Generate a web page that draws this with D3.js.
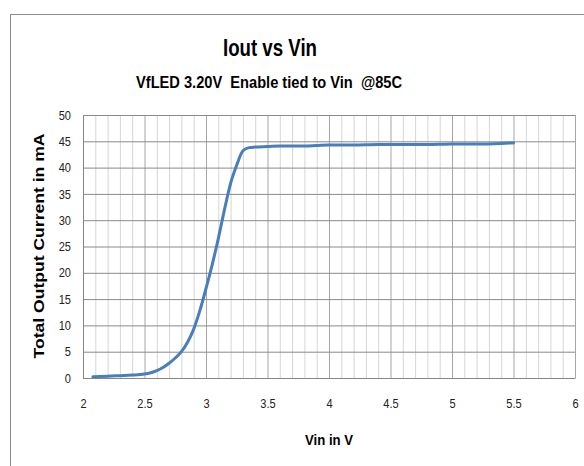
<!DOCTYPE html>
<html><head><meta charset="utf-8">
<script src="https://cdn.jsdelivr.net/npm/d3@7"></script>
<style>
html,body{margin:0;padding:0;background:#fff;}
svg{display:block;}
text{white-space:pre;}
</style></head>
<body>
<script>
const vin = [2.08, 2.2, 2.3, 2.4, 2.5, 2.55, 2.6, 2.65, 2.7, 2.75, 2.8, 2.85, 2.9, 2.95, 3.0, 3.05, 3.1, 3.15, 3.2, 3.25, 3.3, 3.35, 3.4, 3.5, 3.6, 3.7, 3.8, 3.9, 4.0, 4.2, 4.4, 4.6, 4.8, 5.0, 5.2, 5.4, 5.5];
const iout = [0.25, 0.35, 0.45, 0.55, 0.75, 1.0, 1.4, 2.0, 2.8, 3.8, 5.0, 6.8, 9.3, 12.8, 17, 21.5, 26.5, 32, 37, 40.5, 43.2, 43.8, 43.9, 44.0, 44.1, 44.1, 44.1, 44.2, 44.3, 44.3, 44.4, 44.4, 44.4, 44.5, 44.5, 44.6, 44.7];
const xTicks = [2, 2.5, 3, 3.5, 4, 4.5, 5, 5.5, 6];
const yTicks = [0, 5, 10, 15, 20, 25, 30, 35, 40, 45, 50];
const title = "Iout vs Vin";
const subtitle = "VfLED 3.20V  Enable tied to Vin  @85C";
const xTitle = "Vin in V";
const yTitle = "Total Output Current in mA";

const W = 584, H = 466;
const m = {left: 83, right: 575, top: 115, bottom: 378};
const svg = d3.select("body").append("svg").attr("width", W).attr("height", H);
const FONT = "'Liberation Sans',Arial,sans-serif";

svg.append("rect").attr("x", 10.5).attr("y", 14.5).attr("width", 620).attr("height", 500)
  .attr("fill", "#fff").attr("stroke", "#8c8c8c").attr("stroke-width", 1);

const x = d3.scaleLinear().domain([2, 6]).range([m.left, m.right]);
const y = d3.scaleLinear().domain([0, 50]).range([m.bottom, m.top]);

const minor = d3.range(20, 61).map(d => d / 10).filter(d => Math.round(d * 10) % 5 !== 0);
svg.append("g")
  .attr("transform", `translate(0,${m.bottom})`)
  .call(d3.axisBottom(x).tickValues(minor).tickSize(-(m.bottom - m.top)).tickFormat(""))
  .call(g => g.select(".domain").remove())
  .call(g => g.selectAll("line").attr("stroke", "#d6d6d6"));
svg.append("g")
  .attr("transform", `translate(0,${m.bottom})`)
  .call(d3.axisBottom(x).tickValues(xTicks).tickSize(-(m.bottom - m.top)).tickFormat(""))
  .call(g => g.select(".domain").remove())
  .call(g => g.selectAll("line").attr("stroke", "#a6a6a6"));
svg.append("g")
  .attr("transform", `translate(${m.left},0)`)
  .call(d3.axisLeft(y).tickValues(yTicks).tickSize(-(m.right - m.left)).tickFormat(""))
  .call(g => g.select(".domain").remove())
  .call(g => g.selectAll("line").attr("stroke", "#8a8a8a"));

const xAxis = svg.append("g").attr("transform", `translate(0,${m.bottom})`)
  .call(d3.axisBottom(x).tickValues(xTicks).tickSize(0).tickPadding(21).tickFormat(d3.format("")));
xAxis.select(".domain").attr("stroke", "#868686");
xAxis.selectAll("text").attr("font-family", FONT).attr("font-size", 13).attr("fill", "#222")
  .each(function() { const t = d3.select(this); const w = this.getComputedTextLength(); t.attr("textLength", w * 0.85).attr("lengthAdjust", "spacingAndGlyphs"); });

const yAxis = svg.append("g").attr("transform", `translate(${m.left},0)`)
  .call(d3.axisLeft(y).tickValues(yTicks).tickSize(0).tickPadding(12).tickFormat(d3.format("")));
yAxis.select(".domain").attr("stroke", "#868686");
yAxis.selectAll("text").attr("font-family", FONT).attr("font-size", 13).attr("fill", "#222")
  .each(function() { const t = d3.select(this); const w = this.getComputedTextLength(); t.attr("textLength", w * 0.85).attr("lengthAdjust", "spacingAndGlyphs"); });

const data = vin.map((v, i) => [v, iout[i]]);
svg.append("path").datum(data)
  .attr("fill", "none").attr("stroke", "#4a7ebb").attr("stroke-width", 3)
  .attr("stroke-linejoin", "round").attr("stroke-linecap", "round")
  .attr("d", d3.line().x(d => x(d[0])).y(d => y(d[1])).curve(d3.curveMonotoneX));

function txt(str, px, py, size, len) {
  return svg.append("text").attr("x", px).attr("y", py).attr("text-anchor", "middle")
    .attr("font-family", FONT).attr("font-weight", "bold").attr("font-size", size).attr("fill", "#000")
    .attr("textLength", len).attr("lengthAdjust", "spacingAndGlyphs")
    .text(str);
}
txt(title, 270, 56, 23, 94);
txt(subtitle, 269, 88, 16, 266);
txt(xTitle, 329, 445, 15, 48);
svg.append("text").attr("transform", "translate(44,246) rotate(-90)").attr("text-anchor", "middle")
  .attr("font-family", FONT).attr("font-weight", "bold").attr("font-size", 15).attr("fill", "#000")
  .attr("textLength", 225).attr("lengthAdjust", "spacingAndGlyphs")
  .text(yTitle);
</script>
</body></html>
